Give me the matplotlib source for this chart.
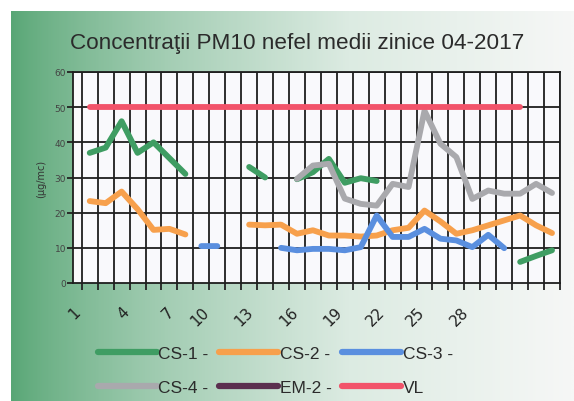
import numpy as np
import matplotlib
matplotlib.use('Agg')
from matplotlib import pyplot as plt
from matplotlib.colors import LinearSegmentedColormap

nan = np.nan

# Zilele lunii
zile = list(range(1, 31))
etichete_x = ['1', '4', '7', '10', '13', '16', '19', '22', '25', '28']

# Concentratii medii zilnice PM10 (ug/mc)
cs1 = [37, 38.5, 46, 37, 40, 35.5, 31, nan, nan, nan,
       33, 30, nan, 29.5, 31.5, 35.3, 28.5, 29.8, 29, nan,
       nan, nan, nan, nan, nan, nan, nan, 6, 7.7, 9.3]
cs2 = [23.3, 22.7, 26, 21, 15.1, 15.4, 13.8, nan, nan, nan,
       16.6, 16.4, 16.6, 14, 15, 13.5, 13.5, 13.2, 13.5, 15,
       15.7, 20.6, 17.5, 14, 15, 16.4, 17.8, 19.2, 16.4, 14.2]
cs3 = [nan, nan, nan, nan, nan, nan, nan, 10.5, 10.5, nan,
       nan, nan, 10, 9.3, 9.7, 9.7, 9.3, 10.2, 19.2, 13.1,
       13.1, 15.4, 12.6, 12.1, 10.2, 13.7, 9.9, nan, nan, nan]
cs4 = [nan, nan, nan, nan, nan, nan, nan, nan, nan, nan,
       nan, nan, nan, 29.6, 33.4, 33.9, 24, 22.5, 22, 28.2,
       27.3, 49, 39.6, 35.8, 23.9, 26.3, 25.4, 25.4, 28.2, 25.6]
em2 = [nan] * 30
vl = [50, 50, 50, 50, 50, 50, 50, 50, 50, 50,
      50, 50, 50, 50, 50, 50, 50, 50, 50, 50,
      50, 50, 50, 50, 50, 50, 50, 50, nan, nan]

serii = [('CS-1 -', cs1, '#3f9d63'),
         ('CS-2 -', cs2, '#f7a04c'),
         ('CS-3 -', cs3, '#5a8fdf'),
         ('CS-4 -', cs4, '#a9a9ad'),
         ('EM-2 -', em2, '#5b2f4f'),
         ('VL', vl, '#f2536a')]

# pozitia etichetelor pe axa x (in scan-ul original sunt putin decalate spre stanga)
poz_etichete = [-0.05, 2.98, 5.8, 8.0, 10.8, 13.6, 16.35, 19.0, 21.55, 24.3]

fig = plt.figure(figsize=(5.74, 4.02), dpi=100)
fig.patch.set_facecolor('white')

# fundal cu gradient verde -> alb
fundal = fig.add_axes([11 / 574, 0, 1 - 11 / 574, 1 - 12 / 402], zorder=0)
grad = np.linspace(0, 1, 256) ** 0.8
grad = np.vstack([grad, grad])
cmap = LinearSegmentedColormap.from_list('g', ['#58a675', '#9fcbb0', '#dcebe2', '#f6f7f6'])
fundal.imshow(grad, aspect='auto', cmap=cmap, extent=[0, 1, 0, 1])
fundal.axis('off')

ax = fig.add_axes([73 / 574, 118 / 402, 487 / 574, 211 / 402], zorder=1)
ax.set_facecolor('#f9f9fc')

linii = {}
for nume, val, cul in serii:
    l, = ax.plot(zile, val, color=cul, lw=4.2, solid_capstyle='round',
                 solid_joinstyle='round', label=nume, zorder=3)
    linii[nume] = l

ax.set_xlim(0.5, 30.5)
ax.set_ylim(0, 60)
ax.set_yticks(range(0, 61, 10))
ax.set_xticks(np.arange(0.5, 31, 1), minor=True)
ax.set_xticks(poz_etichete, etichete_x)
ax.tick_params(axis='x', which='major', length=0, pad=15, labelsize=11,
               labelcolor='#222222', labelrotation=45)
for t in ax.get_xticklabels():
    t.set_ha('right')
    t.set_rotation_mode('anchor')
ax.tick_params(axis='x', which='minor', length=5, width=1.3, color='#222222')
ax.tick_params(axis='y', length=4, width=1.3, color='#222222', labelsize=6.5,
               labelcolor='#444444', pad=1)

ax.grid(False)
for x in np.arange(0.5, 31, 1):
    ax.axvline(x, color='#1e1e1e', lw=1.3, zorder=1)
for y in range(10, 61, 10):
    ax.axhline(y, color='#1e1e1e', lw=1.3, zorder=1)
for s in ax.spines.values():
    s.set_color('#1e1e1e')
    s.set_linewidth(1.3)

ax.set_ylabel('(µg/mc)', fontsize=7, color='#333333', labelpad=6)

fig.text(0.518, 0.893, 'Concentraţii PM10 nefel medii zinice 04-2017',
         ha='center', va='center', fontsize=16.2, color='#2b2b2b',
         family='Liberation Sans')

ordine = ['CS-1 -', 'CS-4 -', 'CS-2 -', 'EM-2 -', 'CS-3 -', 'VL']
leg = fig.legend([linii[n] for n in ordine], ordine, ncol=3,
                 loc='upper left', bbox_to_anchor=(82 / 574, 1 - 331 / 402),
                 frameon=False, handlelength=3.4,
                 handletextpad=0.1, columnspacing=0.6, labelspacing=1.1,
                 prop={'family': 'Liberation Sans', 'size': 12.5})
for t in leg.get_texts():
    t.set_color('#2b2b2b')
for h in leg.get_lines():
    h.set_linewidth(4.5)

fig.savefig('out.png', dpi=100)
